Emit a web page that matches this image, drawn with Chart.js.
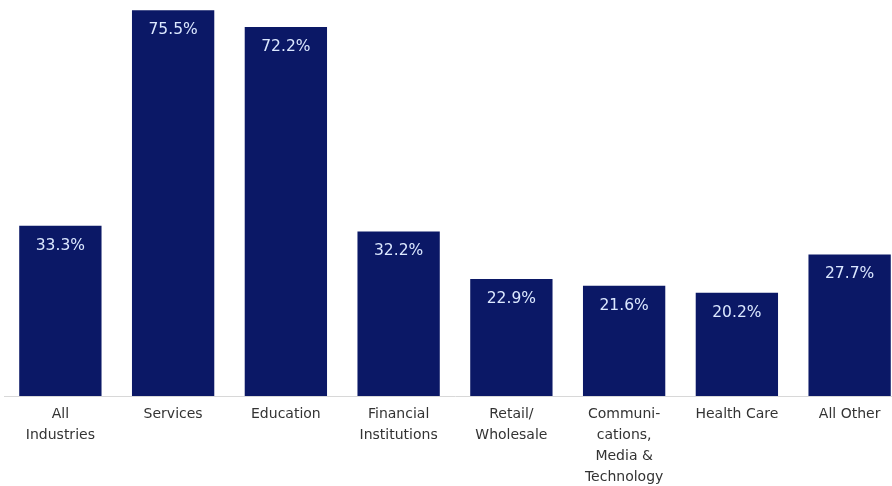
<!DOCTYPE html>
<html>
<head>
<meta charset="utf-8">
<script src="https://cdn.jsdelivr.net/npm/chart.js@4"></script>
<style>
    html, body { margin: 0; padding: 0; background: #fff; overflow: hidden; }
    #wrap { position: relative; width: 906px; height: 496px; }
</style>
</head>
<body>
<div id="wrap"><canvas id="grafico"></canvas></div>
<script>
// Categorias e valores (%)
const categorias = [
    ['All', 'Industries'],
    'Services',
    'Education',
    ['Financial', 'Institutions'],
    ['Retail/', 'Wholesale'],
    ['Communi-', 'cations,', 'Media &', 'Technology'],
    'Health Care',
    'All Other'
];
const valores = [33.3, 75.5, 72.2, 32.2, 22.9, 21.6, 20.2, 27.7];
const rotulos = ['33.3%', '75.5%', '72.2%', '32.2%', '22.9%', '21.6%', '20.2%', '27.7%'];

// Plugin para escrever o valor dentro de cada barra
const valorNaBarra = {
    id: 'valorNaBarra',
    afterDatasetsDraw(chart) {
        const ctx = chart.ctx;
        const meta = chart.getDatasetMeta(0);
        ctx.save();
        ctx.font = '15.5px "DejaVu Sans"';
        ctx.fillStyle = '#dce8ff';
        ctx.textAlign = 'center';
        ctx.textBaseline = 'middle';
        meta.data.forEach((barra, i) => {
            ctx.fillText(rotulos[i], barra.x, barra.y + 20);
        });
        ctx.restore();
    }
};

document.addEventListener('DOMContentLoaded', () => {
    let ctx = document.getElementById('grafico').getContext('2d');
    new Chart(ctx, {
        type: 'bar',
        data: {
            labels: categorias,
            datasets: [{
                data: valores,
                backgroundColor: '#0b1866',
                borderWidth: 0,
                barPercentage: 0.73,
                categoryPercentage: 1
            }]
        },
        options: {
            responsive: true,
            maintainAspectRatio: false,
            animation: false,
            layout: { padding: { left: 4, right: 0, top: 0, bottom: 0 } },
            scales: {
                y: {
                    display: false,
                    min: 0,
                    max: 77.5
                },
                x: {
                    grid: { display: false, drawTicks: false },
                    border: { display: true, color: '#d8d8d8', width: 1 },
                    ticks: {
                        color: '#333',
                        padding: 8,
                        maxRotation: 0,
                        autoSkip: false,
                        font: { family: '"DejaVu Sans"', size: 14, lineHeight: 1.5 }
                    }
                }
            },
            plugins: {
                legend: { display: false },
                tooltip: { enabled: false }
            }
        },
        plugins: [valorNaBarra]
    });
});
</script>
</body>
</html>
